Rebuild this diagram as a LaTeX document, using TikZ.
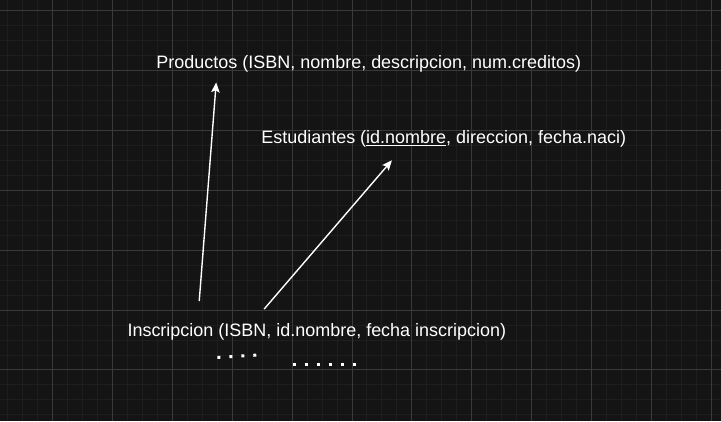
\documentclass[tikz,border=0pt]{standalone}
\usepackage{fontspec}
\setmainfont{Liberation Sans}
\usetikzlibrary{arrows.meta}

\definecolor{fondo}{HTML}{141414}
\definecolor{rejillafina}{HTML}{1E1E1E}
\definecolor{rejilla}{HTML}{3A3A3A}

\tikzset{
  tabla/.style={anchor=west, text=white, inner sep=0pt, font=\fontsize{18}{21}\selectfont},
  puntos/.style={draw=white, line width=3pt, dash pattern=on 3pt off 9pt},
  flecha/.style={draw=white, line width=1.4pt, -{Stealth[length=10pt, width=8.5pt, inset=2pt]}}
}

\begin{document}
\begin{tikzpicture}[x=1pt, y=-1pt]
        \fill[fondo] (0,0) rectangle (721,421);
        \foreach \x in {7,22,...,712} \draw[rejillafina, line width=1pt] (\x,0) -- (\x,421);
        \foreach \y in {10,25,...,415} \draw[rejillafina, line width=1pt] (0,\y) -- (721,\y);
        \foreach \x in {52,112,...,712} \draw[rejilla, line width=1pt] (\x,0) -- (\x,421);
        \foreach \y in {10,70,...,370} \draw[rejilla, line width=1pt] (0,\y) -- (721,\y);
        \node[tabla] (productos) at (156,63) {Productos (ISBN, nombre, descripcion, num.creditos)};
        \node[tabla] (estudiantes) at (261,139) {Estudiantes (\underline{id.nombre}, direccion, fecha.naci)};
        \node[tabla] (inscripcion) at (127,332) {Inscripcion (ISBN, id.nombre, fecha inscripcion)};
        % puntos bajo la tabla
        \coordinate (puntosA1) at (217.2,357.4);
        \coordinate (puntosA2) at (258,355);
        \coordinate (puntosB1) at (292.5,364.3);
        \coordinate (puntosB2) at (358,364.3);
        \draw[puntos] (puntosA1) -- (puntosA2);
        \draw[puntos] (puntosB1) -- (puntosB2);
        \coordinate (isbnA) at (199,301);
        \coordinate (isbnB) at (216,82);
        \coordinate (idA) at (264,309);
        \coordinate (idB) at (392,160);
        \draw[flecha] (isbnA) -- (isbnB);
        \draw[flecha] (idA) -- (idB);
    \end{tikzpicture}
\end{document}
